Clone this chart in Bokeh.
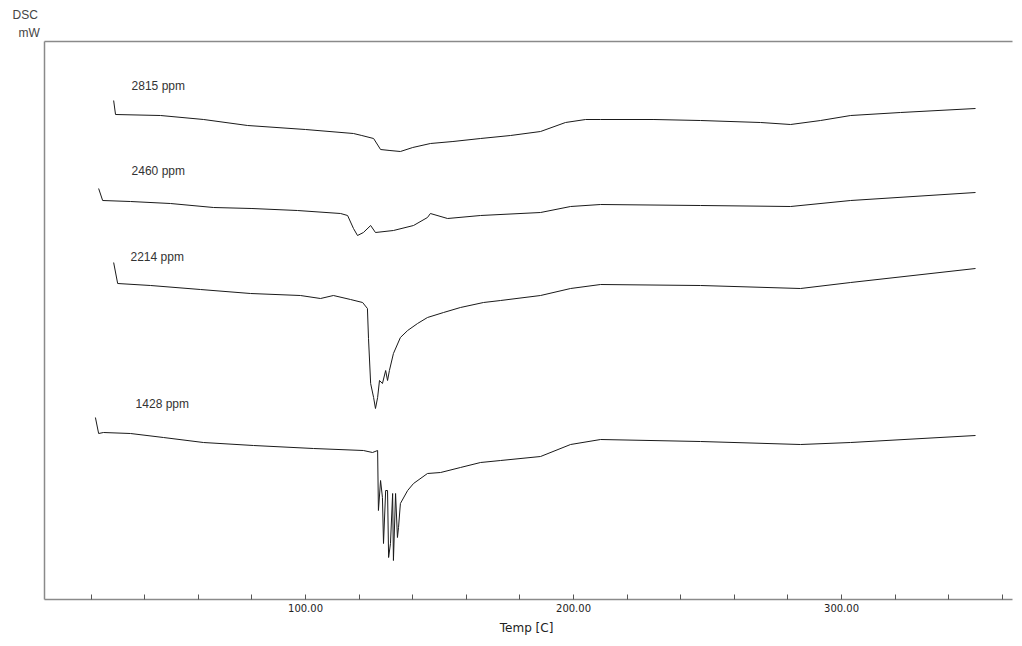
from bokeh.plotting import figure
from bokeh.models import FixedTicker, LinearAxis, Title, Range1d, ColumnDataSource
from bokeh.core.properties import value
from bokeh.embed import file_html
from bokeh.resources import INLINE

# ---- data (temperature in C, DSC signal in arbitrary plot units) ----
t_2815 = [28.4, 29.1, 45.9, 62.0, 78.4, 100.0, 117.9, 121.0, 125.4, 128.0, 131.5, 135.4,
          140.0, 146.6, 155.0, 165.3, 176.5, 187.7, 197.0, 204.5, 210.1, 230.0, 247.4,
          269.8, 281.0, 292.2, 303.4, 322.0, 350.0]
v_2815 = [499, 485, 484, 480, 474, 470, 466, 464, 461, 450, 449, 448,
          452, 456, 458, 461, 464, 468, 477, 480, 480, 480, 479,
          477, 475, 479, 484, 487, 491]

t_2460 = [22.8, 24.3, 34.7, 49.6, 65.7, 80.0, 97.0, 113.1, 115.7, 117.9, 119.4, 121.6,
          124.3, 126.1, 132.8, 140.3, 145.5, 146.6, 153.0, 165.3, 187.7, 198.9, 210.1,
          247.4, 281.0, 303.4, 350.0]
v_2460 = [411, 399, 398, 396, 392, 391, 389, 386, 384, 371, 364, 367,
          374, 367, 369, 374, 382, 386, 381, 384, 387, 393, 395,
          394, 393, 399, 407]

t_2214 = [28.4, 29.9, 42.2, 60.8, 79.5, 98.1, 105.6, 110.4, 116.8, 121.3, 123.1, 123.5,
          124.3, 125.4, 126.1, 126.9, 127.6, 128.7, 129.9, 130.6, 131.3, 132.8, 135.4,
          138.1, 141.8, 145.5, 151.5, 157.8, 166.4, 172.8, 187.7, 198.9, 210.1, 247.4,
          284.7, 303.4, 350.0]
v_2214 = [337, 316, 314, 310, 306, 304, 301, 304, 300, 297, 291, 261,
          216, 202, 191, 202, 219, 216, 229, 219, 229, 246, 262,
          269, 276, 282, 287, 292, 297, 299, 304, 311, 315, 314,
          311, 317, 331]

t_1428 = [21.6, 22.8, 24.6, 34.7, 47.0, 61.9, 80.6, 103.0, 121.6, 125.0, 126.9, 127.2,
          128.0, 128.7, 129.1, 129.9, 130.6, 131.0, 131.7, 132.5, 132.8, 133.6, 134.3,
          134.7, 135.4, 138.1, 140.3, 145.5, 150.4, 157.8, 165.3, 172.8, 187.7, 198.9,
          210.1, 247.4, 284.7, 303.4, 350.0]
v_1428 = [182, 166, 167, 166, 162, 157, 154, 151, 149, 147, 149, 89,
          119, 102, 56, 109, 109, 42, 56, 106, 39, 106, 62,
          72, 96, 109, 116, 126, 127, 132, 137, 139, 143, 155,
          160, 158, 155, 157, 164]

series_names = ["2815 ppm", "2460 ppm", "2214 ppm", "1428 ppm"]
label_t = [35.1, 35.1, 34.7, 36.6]
label_v = [514, 429, 343, 196]

tick_values = list(range(20, 361, 20))
tick_labels = {100: "100.00", 200: "200.00", 300: "300.00"}

# ---- figure ----
p = figure(width=1014, height=638, output_backend="svg", toolbar_location=None,
           x_range=Range1d(2.6, 363.8), y_range=Range1d(0, 558),
           min_border_left=44, min_border_right=2, min_border_top=41, min_border_bottom=39,
           x_axis_location=None, y_axis_location=None)
p.outline_line_color = None
p.xgrid.visible = False
p.ygrid.visible = False
p.background_fill_color = "white"

axis_gray = "#8a8a8a"

xax = LinearAxis(ticker=FixedTicker(ticks=tick_values),
                 major_label_overrides={t: tick_labels.get(t, "") for t in tick_values})
xax.axis_line_color = axis_gray
xax.axis_line_width = 1.5
xax.major_tick_in = 5
xax.major_tick_out = 0
xax.major_tick_line_color = "#555555"
xax.minor_tick_line_color = None
xax.major_label_text_font = "DejaVu Sans"
xax.major_label_text_font_size = "10px"
xax.major_label_text_color = "#222222"
xax.major_label_standoff = 4
xax.axis_label = "Temp  [C]"
xax.axis_label_text_font = "DejaVu Sans"
xax.axis_label_text_font_size = "12px"
xax.axis_label_text_font_style = "normal"
xax.axis_label_text_color = "#222222"
xax.axis_label_standoff = 6
p.add_layout(xax, "below")

yax = LinearAxis(ticker=FixedTicker(ticks=[]))
yax.axis_line_color = axis_gray
yax.axis_line_width = 1.5
yax.major_tick_line_color = None
yax.minor_tick_line_color = None
yax.major_label_text_font_size = "0px"
p.add_layout(yax, "left")

top = LinearAxis(ticker=FixedTicker(ticks=[]))
top.axis_line_color = axis_gray
top.axis_line_width = 1.5
top.major_tick_line_color = None
top.minor_tick_line_color = None
top.major_label_text_font_size = "0px"
p.add_layout(top, "above")

p.add_layout(Title(text="mW", align="left", offset=-26, standoff=3,
                   text_font="Liberation Sans", text_font_size="12px",
                   text_font_style="normal", text_color="#444444"), "above")
p.add_layout(Title(text="DSC", align="left", offset=-32, standoff=1,
                   text_font="Liberation Sans", text_font_size="12px",
                   text_font_style="normal", text_color="#444444"), "above")

for t, v in [(t_2815, v_2815), (t_2460, v_2460), (t_2214, v_2214), (t_1428, v_1428)]:
    p.line(t, v, line_color="#1a1a1a", line_width=1)

src = ColumnDataSource(dict(x=label_t, y=label_v, text=series_names))
p.text(x="x", y="y", text="text", source=src, text_font=value("Liberation Sans"),
       text_font_size="12px", text_color="#333333", text_baseline="middle", text_align="left")

open("out.html", "w").write(file_html(p, INLINE))
